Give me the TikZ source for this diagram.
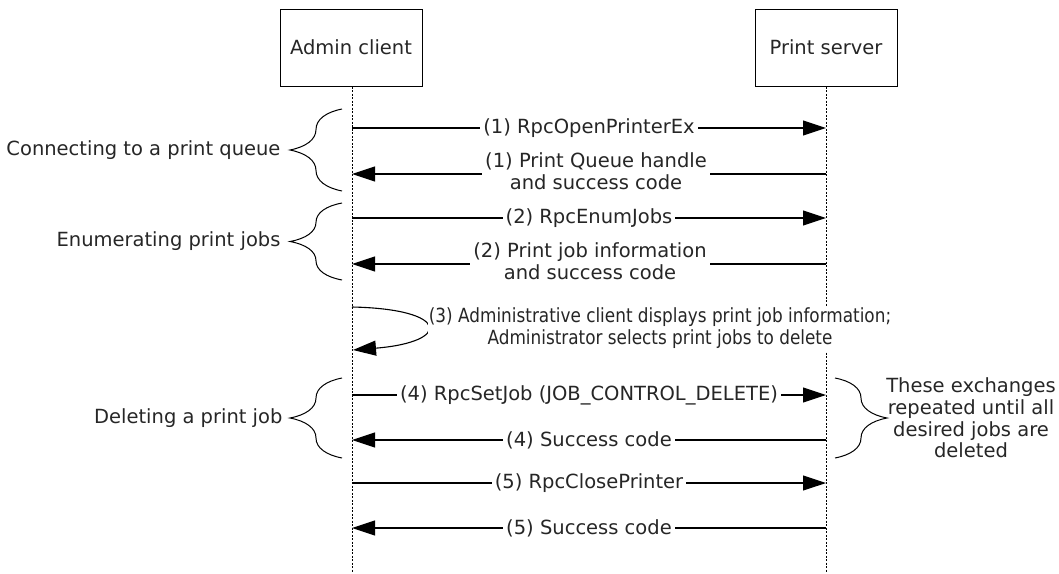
\documentclass[tikz,border=0pt]{standalone}
\usepackage{fontspec}
\setmainfont{DejaVu Sans}
\usetikzlibrary{arrows.meta,decorations.pathreplacing}
\begin{document}
\begin{tikzpicture}[x=1pt,y=-1pt,
  every node/.style={font=\fontsize{19.5}{21.7}\selectfont, text=black!85},
  actor/.style={draw, line width=1pt, minimum width=142pt, minimum height=77pt, inner sep=0pt},
  lifeline/.style={line width=0.9pt, dash pattern=on 2pt off 1.5pt},
  msg/.style={line width=1.1pt, -{Triangle[length=23pt,width=15pt]}},
  lbl/.style={fill=white, inner sep=3pt, align=center},
  bracedeco/.style={decorate, decoration={brace, amplitude=52pt}, line width=1pt},
  note/.style={align=center}]
\useasboundingbox (0,0) rectangle (1059,573);

% actors
\node[actor] (A) at (351,47.5) {Admin client};
\node[actor] (S) at (826,47.5) {Print server};
\coordinate (Aend) at (352,573);
\coordinate (Send) at (826,573);
\draw[lifeline] (A.south -| Aend) -- (Aend);
\draw[lifeline] (S.south) -- (Send);

% message anchor points
\foreach \n/\y in {1/128, 2/174, 3/218, 4/264, 6/395, 7/440, 8/483, 9/528}{
  \coordinate (a\n) at (352,\y);
  \coordinate (s\n) at (826,\y);
}
\coordinate (l3a) at (352,307);
\coordinate (l3b) at (353,350);

% messages
\draw[msg] (a1) -- node[lbl] (m1) {(1) RpcOpenPrinterEx} (s1);
\draw[msg] (s2) -- (a2);
\node[lbl] (m2) at (596,171) {(1) Print Queue handle\\and success code};
\draw[msg] (a3) -- node[lbl] (m3) {(2) RpcEnumJobs} (s3);
\draw[msg] (s4) -- (a4);
\node[lbl] (m4) at (590,261) {(2) Print job information\\and success code};
\draw[msg] (l3a) .. controls (450,309) and (452,342) .. (l3b);
\node[note, fill=white, inner sep=1pt] (m5) at (660,329) {\scalebox{0.865}[1]{\begin{tabular}{@{}c@{}}(3) Administrative client displays print job information;\\Administrator selects print jobs to delete\end{tabular}}};
\draw[msg] (a6) -- node[lbl] (m6) {(4) RpcSetJob (JOB\_CONTROL\_DELETE)} (s6);
\draw[msg] (s7) -- node[lbl] (m7) {(4) Success code} (a7);
\draw[msg] (a8) -- node[lbl] (m8) {(5) RpcClosePrinter} (s8);
\draw[msg] (s9) -- node[lbl] (m9) {(5) Success code} (a9);

% braces left
\coordinate (b1t) at (342,109); \coordinate (b1b) at (342,191);
\coordinate (b2t) at (342,203); \coordinate (b2b) at (342,280);
\coordinate (b3t) at (342,378); \coordinate (b3b) at (342,458);
\draw[bracedeco] (b1b) -- (b1t);
\draw[bracedeco] (b2b) -- (b2t);
\draw[bracedeco] (b3b) -- (b3t);
\node[anchor=east] (g1) at (284,150) {Connecting to a print queue};
\node[anchor=east] (g2) at (284,241) {Enumerating print jobs};
\node[anchor=east] (g3) at (286,418) {Deleting a print job};

% brace right
\coordinate (b4t) at (835,378); \coordinate (b4b) at (835,458);
\draw[bracedeco] (b4t) -- (b4b);
\node[note] (g4) at (971,418) {These exchanges\\repeated until all\\desired jobs are\\deleted};
\end{tikzpicture}
\end{document}
